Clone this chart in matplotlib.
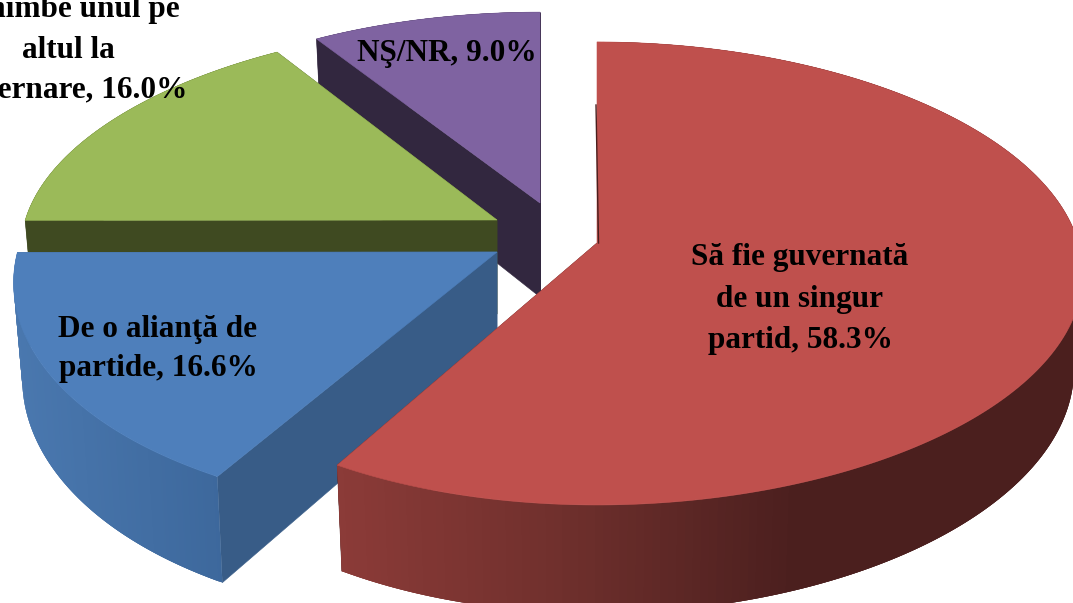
"""Exploded 3-D style pie: cum ar trebui guvernata tara."""

import matplotlib

matplotlib.use("Agg")
import matplotlib.pyplot as plt
import numpy as np
from matplotlib.collections import PolyCollection
from matplotlib.colors import to_rgb
from matplotlib.patches import Polygon

LABELS = ["Să fie guvernată\nde un singur\npartid, 58.3%",
          "De o alianţă de\npartide, 16.6%",
          "Schimbe unul pe\naltul la\nguvernare, 16.0%",
          "NŞ/NR, 9.0%"]
VALUES = [58.3, 16.6, 16.0, 9.0]

TOP_COLORS = ["#BF504D", "#4E7FBB", "#9BBA59", "#7F63A1"]
WALL_COLORS = ["#4A1F1E", "#385C87", "#3F4A21", "#32273F"]
# rim shading, left to right on screen
RIM_X = [[336, 560, 800, 1073], [10, 222], [0, 1], [0, 1]]
RIM_COLORS = [["#8C3B38", "#70302D", "#4B1F1E", "#4B1F1E"],
              ["#4A78AF", "#3D689C"],
              ["#3F4A21", "#3F4A21"],
              ["#32273F", "#32273F"]]

# per slice: apex on screen, radii and sideways skew (explosion changes them)
APEX = [(597, 243), (497, 252), (497, 220), (540, 203)]
RADIUS_X = [467, 515, 442, 463]
RADIUS_Y = [227.5, 230, 221, 216]
SKEW = [-0.03, -0.074, 0.063, 0.0]

PERSP = 0.1316
DEPTH = 94
DEPTH_X = 0.982

W, H = 1073, 603


def edge(i, t):
    """Top-face rim point(s) at clockwise angle t (radians from 12 o'clock)."""
    u, v = np.sin(t), np.cos(t)
    w = 1 + PERSP * v
    x = APEX[i][0] + RADIUS_X[i] * u / (w + SKEW[i] * u)
    y = APEX[i][1] - RADIUS_Y[i] * v / w
    return x, y, w


def draw_slice(ax, i, t0, t1):
    apex = APEX[i]
    t = np.linspace(t0, t1, 240)
    x, y, w = edge(i, t)
    xb = apex[0] + (x - apex[0]) * DEPTH_X
    yb = y + DEPTH / w
    apex_low = (apex[0], apex[1] + DEPTH)

    # cut faces first, outer rim over them, top face last
    for k in (0, -1):
        quad = [apex, (x[k], y[k]), (xb[k], yb[k]), apex_low]
        ax.add_patch(Polygon(quad, closed=True, fc=WALL_COLORS[i],
                             ec=WALL_COLORS[i], lw=0.4))

    # strips overlap the next one so no seams show through
    stops = np.array([to_rgb(c) for c in RIM_COLORS[i]])
    quads, cols = [], []
    for j in range(len(t) - 1):
        n = min(j + 3, len(t) - 1)
        quads.append([(x[j], y[j]), (x[n], y[n]), (xb[n], yb[n]), (xb[j], yb[j])])
        cols.append([np.interp(x[j], RIM_X[i], stops[:, c]) for c in range(3)])
    ax.add_collection(PolyCollection(quads, facecolors=cols, edgecolors="none"))

    top = [apex] + list(zip(x, y))
    ax.add_patch(Polygon(top, closed=True, fc=TOP_COLORS[i], ec=TOP_COLORS[i],
                         lw=0.4))


def main() -> None:
    plt.rcParams["font.family"] = ["Liberation Serif", "DejaVu Serif"]
    fig = plt.figure(figsize=(W / 100, H / 100), dpi=100)
    ax = fig.add_axes([0, 0, 1, 1])
    ax.set_xlim(0, W)
    ax.set_ylim(H, 0)
    ax.axis("off")

    angles = np.cumsum([0] + VALUES) / sum(VALUES) * 2 * np.pi
    # back to front, red last
    for i in (3, 2, 1, 0):
        draw_slice(ax, i, angles[i], angles[i + 1])

    # dark sliver along the red slice's back edge
    ax.plot([596, 598.5], [105, 243], color="#4A1F1E", lw=1.0)

    # ---- labels ----------------------------------------------------------
    spots = [(800, 299), (158, 349), (68, 50), (447, 54)]
    spacing = [1.58, 1.47, 1.52, 1.0]
    for label, (lx, ly), gap in zip(LABELS, spots, spacing):
        ax.text(lx, ly, label, ha="center", va="center", fontsize=22.5,
                fontweight="bold", color="black", linespacing=gap)

    fig.savefig("out.png", dpi=100)


if __name__ == "__main__":
    main()
